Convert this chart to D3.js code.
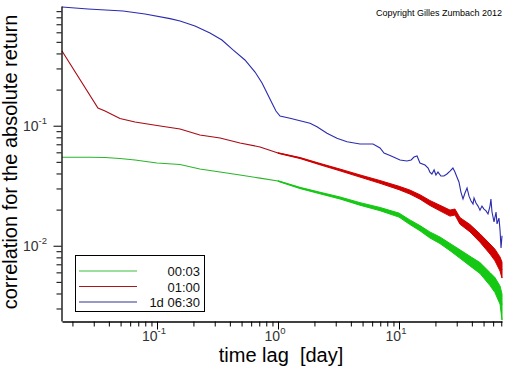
<!DOCTYPE html>
<html><head><meta charset="utf-8">
<script src="https://cdn.jsdelivr.net/npm/d3@7"></script>
<style>
body{margin:0;background:#fff}
svg{display:block}
text{font-family:"Liberation Sans",Arial,Helvetica,sans-serif}
</style>
</head><body>
<svg id="chart" width="512" height="366"></svg>
<script>
// ---- data (time lag in days, correlation) ----
const seriesNames = ["00:03", "01:00", "1d 06:30"];
const xMajorTicks = [0.1, 1, 10];
const xMajorExp = ["-1", "0", "1"];
const yMajorTicks = [0.01, 0.1];
const yMajorExp = ["-2", "-1"];

const lagGreen = [0.0164,0.0210,0.0279,0.0372,0.0494,0.0658,0.1,0.155,0.226,0.332,0.485,0.710,1.0,1.52,2.22,3.25,4.76,6.97,10,12.3,14.9,18.0,21.8,26.4,31.9,38.6,46.7,56.5,62.1,68.4,71.0];
const corrGreen = [0.0546,0.0546,0.0546,0.0543,0.0533,0.0518,0.0489,0.0475,0.0436,0.0411,0.0388,0.0366,0.0346,0.0303,0.0275,0.0250,0.0223,0.0202,0.0180,0.0157,0.0140,0.0123,0.0111,0.00975,0.00853,0.00745,0.00652,0.00528,0.00470,0.00388,0.00321];
// spread of the noisy tail (upper / lower envelope)
const lagGreenBand = [1.0,1.52,2.22,3.25,4.76,6.97,10,12.3,14.9,18.0,21.8,26.4,31.9,38.6,46.7,56.5,62.1,68.4,71.0];
const greenHi = [0.0348,0.03065,0.02793,0.02549,0.02286,0.02083,0.01870,0.01641,0.01472,0.01303,0.01183,0.01045,0.00925,0.00817,0.00724,0.00598,0.00543,0.00461,0.00396];
const greenLo = [0.0344,0.02995,0.02708,0.02452,0.02175,0.01959,0.01732,0.01502,0.01332,0.01161,0.01042,0.00910,0.00787,0.00679,0.00587,0.00466,0.00407,0.00326,0.0024];

const lagRed = [0.0164,0.0325,0.0372,0.0494,0.0658,0.1,0.155,0.226,0.332,0.485,0.710,1.0,1.52,2.22,3.25,4.76,6.97,10,12.3,14.9,18.0,21.8,26.4,29.0,31.9,38.6,46.7,56.5,62.1,68.4,71.0];
const corrRed = [0.419,0.1404,0.1326,0.1148,0.1074,0.1004,0.0939,0.0837,0.0790,0.0718,0.0665,0.0592,0.0538,0.0479,0.0428,0.0381,0.0340,0.0303,0.0280,0.0255,0.0227,0.0206,0.0187,0.0191,0.0161,0.0140,0.0116,0.00939,0.00837,0.00704,0.00627];
const lagRedBand = [1.0,1.52,2.22,3.25,4.76,6.97,10,12.3,14.9,18.0,21.8,26.4,29.0,31.9,38.6,46.7,56.5,62.1,68.4,71.0];
const redHi = [0.05954,0.05432,0.04855,0.04354,0.03891,0.03492,0.03130,0.02909,0.02660,0.02382,0.02174,0.01981,0.02023,0.01715,0.01503,0.01257,0.01034,0.00936,0.00805,0.00731];
const redLo = [0.05886,0.05329,0.04726,0.04207,0.03731,0.03310,0.02933,0.02695,0.02445,0.02164,0.01952,0.01765,0.01803,0.01511,0.01304,0.01070,0.00853,0.00749,0.00615,0.00538];

const lagBlue = [0.0164,0.0269,0.0524,0.0796,0.128,0.155,0.206,0.274,0.344,0.425,0.533,0.646,0.738,0.811,0.891,0.962,1.039,1.256,1.52,1.838,2.10,2.54,3.07,3.72,4.76,6.10,6.97,7.52,8.43,10.2,11.6,12.6,13.3,14.1,14.9,16.4,17.4,18.0,18.7,19.5,20.2,21.0,22.2,23.5,24.9,26.4,27.9,29.0,30.1,31.3,32.5,33.8,35.1,36.5,37.9,39.4,40.9,41.7,43.3,45.0,46.7,48.5,50.4,52.4,54.4,56.5,57.5,58.7,61.0,63.4,64.6,67.0,68.4,69.7,71.0];
const corrBlue = [0.975,0.939,0.904,0.853,0.780,0.746,0.678,0.592,0.518,0.428,0.353,0.280,0.227,0.187,0.1546,0.1326,0.1205,0.1153,0.1101,0.1047,0.0981,0.0865,0.0785,0.0736,0.0704,0.0704,0.0652,0.0592,0.0565,0.0518,0.0508,0.0518,0.0548,0.0559,0.0489,0.0470,0.0444,0.0411,0.0396,0.0428,0.0388,0.0411,0.0381,0.0381,0.0396,0.0419,0.0444,0.0411,0.0374,0.0340,0.0280,0.0245,0.0275,0.0303,0.0259,0.0236,0.0223,0.0250,0.0227,0.0214,0.0198,0.0214,0.0202,0.0195,0.0184,0.0214,0.0245,0.0191,0.0158,0.0191,0.0152,0.0170,0.0135,0.00957,0.0121];

const colors = ["#14c814", "#d00000", "#2b2bb8"];
const lineColors = ["#2bb52b", "#a80a14", "#2b2bb0"];
const legendColors = ["#3cbc3c", "#a81818", "#34348f"];

// ---- layout ----
const svg = d3.select("#chart");
const x = d3.scaleLog().domain([0.0164, 71.0]).range([62, 502]);
const y = d3.scaleLog().domain([0.00236, 0.994]).range([321, 6]);

const zip = (a, b) => a.map((v, i) => [v, b[i]]);
const line = d3.line().x(d => x(d[0])).y(d => y(d[1]));
const band = d3.area().x(d => x(d[0])).y0(d => y(d[1])).y1(d => y(d[2]));

svg.append("path").datum(zip(lagGreen, corrGreen)).attr("d", line)
  .attr("fill", "none").attr("stroke", lineColors[0]).attr("stroke-width", 1.1);
svg.append("path").datum(zip(lagRed, corrRed)).attr("d", line)
  .attr("fill", "none").attr("stroke", lineColors[1]).attr("stroke-width", 1.1);

// dense noisy tails
function drawBand(lags, hi, lo, color) {
  svg.append("path")
    .datum(lags.map((l, i) => [l, lo[i], hi[i]]))
    .attr("d", band).attr("fill", color).attr("stroke", color).attr("stroke-width", 1);
}
drawBand(lagGreenBand, greenHi, greenLo, colors[0]);
drawBand(lagRedBand, redHi, redLo, colors[1]);

svg.append("path").datum(zip(lagBlue, corrBlue)).attr("d", line)
  .attr("fill", "none").attr("stroke", lineColors[2]).attr("stroke-width", 1.1);

// ---- axes ----
const isMajor = v => Math.abs(Math.log10(v) - Math.round(Math.log10(v))) < 1e-6;
const xMinor = x.ticks().filter(v => !isMajor(v));
const yMinor = y.ticks().filter(v => !isMajor(v));

const gx = svg.append("g").attr("transform", "translate(0,321.5)");
gx.call(d3.axisBottom(x).tickValues(xMinor).tickSize(5).tickFormat("").tickSizeOuter(0));
gx.append("g").call(d3.axisBottom(x).tickValues(xMajorTicks).tickSize(8).tickFormat("").tickSizeOuter(0))
  .select(".domain").remove();
const gy = svg.append("g").attr("transform", "translate(61.5,0)");
gy.call(d3.axisLeft(y).tickValues(yMinor).tickSize(5).tickFormat("").tickSizeOuter(0));
gy.append("g").call(d3.axisLeft(y).tickValues(yMajorTicks).tickSize(8).tickFormat("").tickSizeOuter(0))
  .select(".domain").remove();
svg.selectAll(".domain").attr("stroke", "#000").attr("stroke-width", 1.3);
svg.selectAll(".tick line").attr("stroke", "#000").attr("stroke-width", 1);

// tick labels with superscript exponents
xMajorTicks.forEach((v, i) => {
  const t = svg.append("text").attr("x", x(v) - 3).attr("y", 341)
    .attr("text-anchor", "middle").attr("font-size", 14).attr("fill", "#333");
  t.append("tspan").text("10");
  t.append("tspan").attr("dy", -7).attr("font-size", 9.5).text(xMajorExp[i]);
});
yMajorTicks.forEach((v, i) => {
  const t = svg.append("text").attr("x", 47).attr("y", y(v) + 5)
    .attr("text-anchor", "end").attr("font-size", 14).attr("fill", "#333");
  t.append("tspan").text("10");
  t.append("tspan").attr("dy", -7).attr("font-size", 9.5).text(yMajorExp[i]);
});

// axis titles
svg.append("text").attr("transform", "translate(16.5,162) rotate(-90)")
  .attr("text-anchor", "middle").attr("font-size", 20).attr("fill", "#000")
  .text("correlation for the absolute return");
svg.append("text").attr("x", 281).attr("y", 362).attr("text-anchor", "middle")
  .attr("font-size", 20).attr("fill", "#000").style("white-space", "pre")
  .text("time lag  [day]");

// copyright
svg.append("text").attr("x", 502).attr("y", 16).attr("text-anchor", "end")
  .attr("font-size", 9).attr("fill", "#000").text("Copyright Gilles Zumbach 2012");

// ---- legend ----
const lg = svg.append("g");
lg.append("rect").attr("x", 75.5).attr("y", 255.5).attr("width", 129).attr("height", 56)
  .attr("fill", "#fff").attr("stroke", "#000").attr("stroke-width", 1);
seriesNames.forEach((name, i) => {
  const yy = 271 + i * 15.5;
  lg.append("line").attr("x1", 79).attr("x2", 137).attr("y1", yy).attr("y2", yy)
    .attr("stroke", legendColors[i]).attr("stroke-width", 1.1);
  lg.append("text").attr("x", 200).attr("y", yy + 5).attr("text-anchor", "end")
    .attr("font-size", 13).attr("fill", "#111").text(name);
});
</script>
</body></html>
